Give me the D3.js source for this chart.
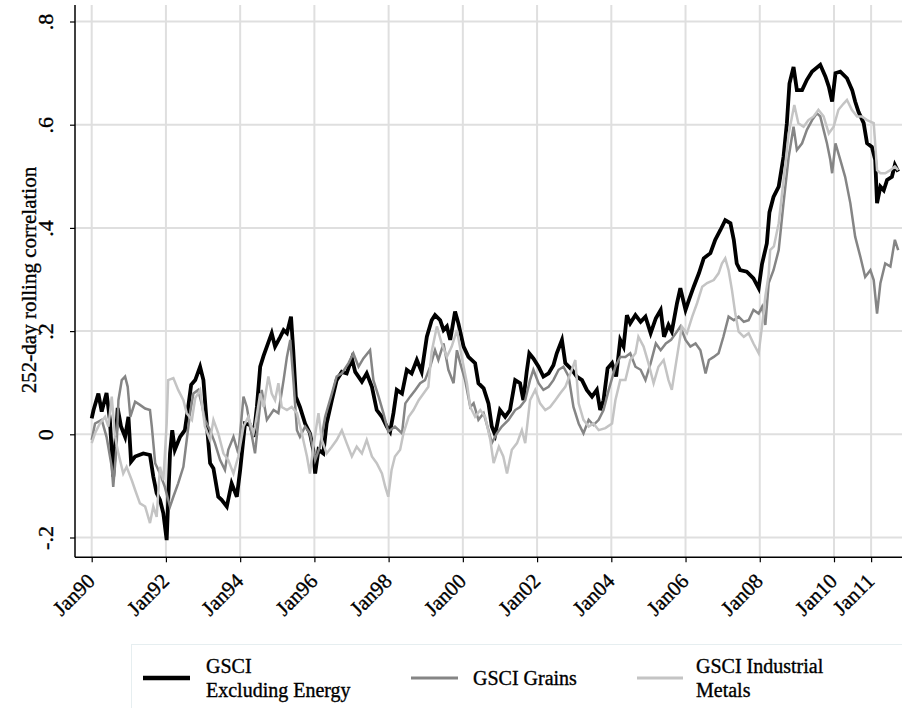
<!DOCTYPE html>
<html><head><meta charset="utf-8">
<script src="https://cdn.jsdelivr.net/npm/d3@7"></script>
<style>
html,body{margin:0;padding:0;background:#fff;}
svg{display:block;}
text{font-family:"Liberation Serif","Times New Roman",serif;fill:#000;stroke:#000;stroke-width:0.35px;}
</style></head>
<body>
<script>
// ---------- DATA ----------
const xTickValues = [1990,1992,1994,1996,1998,2000,2002,2004,2006,2008,2010,2011];
const xTickLabels = ["Jan90","Jan92","Jan94","Jan96","Jan98","Jan00","Jan02","Jan04","Jan06","Jan08","Jan10","Jan11"];
const yTickValues = [-0.2,0,0.2,0.4,0.6,0.8];
const yTickLabels = ["-.2","0",".2",".4",".6",".8"];
const yTitle = "252-day rolling correlation";
const seriesNames = [["GSCI","Excluding Energy"],["GSCI Grains"],["GSCI Industrial","Metals"]];

const exEnergyDates = [1990.00,1990.05,1990.18,1990.27,1990.40,1990.49,1990.58,1990.70,1990.79,1990.90,1990.99,1991.06,1991.17,1991.39,1991.57,1991.66,1991.75,1991.84,1991.93,1992.02,1992.11,1992.17,1992.24,1992.38,1992.51,1992.60,1992.68,1992.79,1992.92,1993.01,1993.10,1993.19,1993.28,1993.41,1993.50,1993.64,1993.77,1993.91,1994.00,1994.13,1994.27,1994.36,1994.45,1994.54,1994.63,1994.85,1994.94,1995.08,1995.17,1995.26,1995.37,1995.43,1995.50,1995.61,1995.75,1995.88,1995.97,1996.02,1996.11,1996.24,1996.33,1996.47,1996.60,1996.74,1996.87,1997.01,1997.10,1997.28,1997.41,1997.55,1997.68,1997.82,1997.95,1998.04,1998.13,1998.22,1998.36,1998.49,1998.62,1998.76,1998.89,1999.03,1999.16,1999.25,1999.39,1999.48,1999.57,1999.66,1999.79,1999.88,2000.02,2000.15,2000.33,2000.42,2000.56,2000.69,2000.78,2000.87,2001.00,2001.14,2001.27,2001.41,2001.54,2001.63,2001.72,2001.79,2001.90,2002.04,2002.17,2002.31,2002.44,2002.53,2002.67,2002.76,2002.94,2003.07,2003.21,2003.34,2003.48,2003.61,2003.70,2003.79,2003.90,2004.02,2004.13,2004.24,2004.33,2004.42,2004.51,2004.65,2004.79,2004.92,2005.06,2005.20,2005.33,2005.42,2005.54,2005.63,2005.77,2005.86,2006.00,2006.09,2006.22,2006.36,2006.49,2006.67,2006.80,2006.94,2007.07,2007.21,2007.30,2007.38,2007.47,2007.65,2007.83,2007.97,2008.06,2008.19,2008.26,2008.37,2008.51,2008.64,2008.73,2008.80,2008.91,2009.00,2009.14,2009.27,2009.41,2009.63,2009.77,2009.86,2009.95,2010.04,2010.17,2010.35,2010.49,2010.57,2010.66,2010.80,2010.89,2011.02,2011.11,2011.16,2011.25,2011.34,2011.43,2011.56,2011.64,2011.73];
const exEnergyValues = [0.031,0.047,0.079,0.044,0.080,0.028,-0.082,0.051,0.015,-0.005,0.034,-0.053,-0.043,-0.037,-0.040,-0.082,-0.114,-0.127,-0.153,-0.205,-0.037,0.008,-0.030,-0.005,0.008,0.053,0.096,0.105,0.131,0.105,0.021,-0.056,-0.066,-0.121,-0.127,-0.140,-0.095,-0.121,-0.069,0.021,0.018,-0.005,0.053,0.131,0.152,0.196,0.170,0.189,0.202,0.196,0.228,0.163,0.073,0.053,0.021,0.002,-0.030,-0.076,-0.030,-0.037,0.021,0.066,0.105,0.121,0.118,0.147,0.121,0.102,0.118,0.092,0.047,0.034,0.015,0.005,0.041,0.086,0.079,0.125,0.118,0.144,0.121,0.189,0.221,0.231,0.221,0.202,0.209,0.183,0.238,0.215,0.170,0.150,0.138,0.099,0.089,0.060,0.015,-0.001,0.047,0.034,0.047,0.105,0.099,0.066,0.121,0.157,0.147,0.131,0.112,0.118,0.134,0.157,0.183,0.138,0.125,0.112,0.105,0.086,0.073,0.086,0.047,0.066,0.128,0.138,0.112,0.183,0.170,0.231,0.215,0.231,0.218,0.228,0.196,0.225,0.241,0.189,0.212,0.199,0.254,0.283,0.241,0.260,0.286,0.312,0.341,0.351,0.377,0.396,0.415,0.409,0.377,0.331,0.318,0.315,0.302,0.283,0.330,0.370,0.430,0.460,0.480,0.538,0.603,0.680,0.712,0.667,0.667,0.687,0.703,0.716,0.693,0.674,0.645,0.700,0.703,0.690,0.667,0.645,0.625,0.603,0.564,0.557,0.532,0.448,0.480,0.473,0.493,0.499,0.522,0.509];

const grainsDates = [1990.00,1990.09,1990.27,1990.40,1990.54,1990.58,1990.67,1990.72,1990.81,1990.90,1990.97,1991.04,1991.17,1991.30,1991.44,1991.57,1991.62,1991.71,1991.84,1991.97,1992.11,1992.20,1992.33,1992.47,1992.56,1992.65,1992.74,1992.87,1992.96,1993.05,1993.19,1993.32,1993.46,1993.59,1993.68,1993.82,1993.95,1994.09,1994.18,1994.27,1994.40,1994.58,1994.72,1994.90,1995.03,1995.17,1995.26,1995.35,1995.44,1995.53,1995.61,1995.75,1995.88,1996.02,1996.15,1996.29,1996.47,1996.60,1996.74,1996.92,1997.05,1997.19,1997.32,1997.50,1997.59,1997.73,1997.86,1997.99,1998.17,1998.36,1998.45,1998.58,1998.72,1998.85,1998.98,1999.12,1999.25,1999.34,1999.48,1999.61,1999.75,1999.84,1999.93,2000.06,2000.20,2000.29,2000.42,2000.56,2000.69,2000.78,2000.92,2001.05,2001.23,2001.41,2001.54,2001.68,2001.81,2001.90,2002.04,2002.17,2002.31,2002.44,2002.58,2002.71,2002.85,2002.98,2003.12,2003.25,2003.39,2003.52,2003.66,2003.79,2003.93,2004.11,2004.24,2004.38,2004.51,2004.65,2004.79,2004.92,2005.06,2005.20,2005.33,2005.47,2005.61,2005.74,2005.86,2006.00,2006.13,2006.27,2006.40,2006.54,2006.63,2006.76,2006.89,2007.02,2007.16,2007.30,2007.43,2007.57,2007.70,2007.83,2007.97,2008.06,2008.15,2008.24,2008.37,2008.51,2008.64,2008.78,2008.91,2009.00,2009.14,2009.27,2009.41,2009.54,2009.63,2009.72,2009.81,2009.90,2009.95,2010.04,2010.17,2010.30,2010.44,2010.57,2010.71,2010.84,2010.98,2011.07,2011.16,2011.25,2011.38,2011.52,2011.64,2011.73];
const grainsValues = [-0.011,0.021,0.028,-0.005,-0.063,-0.102,-0.024,0.066,0.105,0.112,0.092,0.034,0.063,0.057,0.050,0.047,0.015,-0.056,-0.076,-0.102,-0.140,-0.121,-0.095,-0.063,-0.011,0.041,0.079,0.086,0.060,0.028,0.008,-0.017,-0.050,-0.069,-0.030,-0.005,-0.037,0.073,0.053,0.015,-0.037,0.086,0.028,0.047,0.041,0.105,0.150,0.183,0.099,0.008,-0.005,0.015,0.002,-0.050,-0.024,0.034,0.079,0.112,0.118,0.138,0.157,0.131,0.147,0.163,0.105,0.073,0.041,0.005,0.015,0.002,0.060,0.073,0.086,0.099,0.105,0.131,0.163,0.144,0.176,0.125,0.099,0.163,0.138,0.105,0.053,0.060,0.028,0.041,0.008,-0.017,0.002,0.015,0.028,0.047,0.053,0.066,0.105,0.125,0.099,0.086,0.092,0.105,0.125,0.131,0.112,0.053,0.021,0.002,0.028,0.018,0.028,0.047,0.086,0.131,0.150,0.150,0.157,0.131,0.125,0.105,0.138,0.176,0.163,0.176,0.183,0.196,0.209,0.183,0.170,0.176,0.163,0.118,0.144,0.150,0.157,0.189,0.228,0.221,0.228,0.218,0.221,0.241,0.234,0.247,0.212,0.293,0.318,0.357,0.448,0.538,0.596,0.551,0.564,0.590,0.609,0.622,0.616,0.590,0.564,0.532,0.506,0.564,0.532,0.499,0.448,0.383,0.344,0.305,0.318,0.299,0.234,0.293,0.331,0.325,0.377,0.357];

const metalsDates = [1990.00,1990.09,1990.22,1990.36,1990.45,1990.54,1990.63,1990.72,1990.85,1990.94,1991.08,1991.17,1991.30,1991.44,1991.57,1991.66,1991.75,1991.84,1991.93,1992.02,1992.06,1992.20,1992.33,1992.47,1992.56,1992.70,1992.79,1992.92,1993.05,1993.19,1993.28,1993.41,1993.55,1993.68,1993.82,1993.95,1994.09,1994.22,1994.36,1994.40,1994.54,1994.63,1994.76,1994.85,1994.94,1995.03,1995.12,1995.26,1995.39,1995.53,1995.66,1995.80,1995.88,1995.97,1996.11,1996.20,1996.33,1996.47,1996.60,1996.74,1996.87,1997.01,1997.14,1997.28,1997.41,1997.55,1997.68,1997.82,1997.91,1997.99,1998.08,1998.17,1998.31,1998.40,1998.54,1998.67,1998.81,1998.94,1999.07,1999.16,1999.30,1999.43,1999.57,1999.70,1999.84,1999.97,2000.11,2000.20,2000.33,2000.47,2000.60,2000.74,2000.83,2000.97,2001.09,2001.19,2001.32,2001.46,2001.59,2001.68,2001.81,2001.95,2002.08,2002.22,2002.35,2002.49,2002.62,2002.76,2002.90,2003.03,2003.12,2003.25,2003.39,2003.52,2003.66,2003.84,2004.02,2004.11,2004.24,2004.38,2004.51,2004.65,2004.73,2004.87,2005.00,2005.14,2005.27,2005.41,2005.54,2005.63,2005.77,2005.90,2006.04,2006.18,2006.31,2006.45,2006.58,2006.76,2006.89,2006.98,2007.07,2007.16,2007.25,2007.34,2007.43,2007.57,2007.70,2007.83,2007.97,2008.06,2008.15,2008.24,2008.28,2008.38,2008.51,2008.65,2008.78,2008.93,2009.04,2009.18,2009.31,2009.45,2009.58,2009.72,2009.86,2009.99,2010.12,2010.26,2010.35,2010.48,2010.62,2010.75,2010.89,2011.07,2011.16,2011.25,2011.38,2011.52,2011.64,2011.73];
const metalsValues = [-0.017,0.002,0.021,0.034,0.015,0.073,-0.005,-0.037,-0.076,-0.063,-0.089,-0.108,-0.134,-0.140,-0.172,-0.140,-0.160,-0.063,-0.089,0.021,0.105,0.109,0.086,0.066,0.041,0.028,0.070,0.086,0.015,-0.011,0.028,0.002,-0.037,-0.050,-0.076,-0.043,0.015,0.034,0.002,0.015,0.079,0.053,0.112,0.079,0.066,0.099,0.053,0.047,0.053,0.041,0.002,-0.043,-0.076,-0.024,0.041,-0.011,-0.037,-0.024,-0.011,0.008,-0.017,-0.043,-0.024,-0.037,-0.011,-0.043,-0.056,-0.076,-0.102,-0.121,-0.069,-0.043,-0.030,0.002,0.034,0.047,0.066,0.079,0.092,0.160,0.209,0.176,0.150,0.170,0.202,0.150,0.099,0.053,0.034,0.047,0.034,-0.011,-0.056,-0.024,-0.043,-0.076,-0.030,-0.017,0.008,-0.017,0.066,0.086,0.060,0.047,0.053,0.066,0.079,0.092,0.118,0.144,0.060,0.028,0.015,0.021,0.008,0.012,0.021,0.066,0.105,0.105,0.144,0.157,0.189,0.170,0.138,0.099,0.131,0.144,0.105,0.086,0.150,0.209,0.196,0.228,0.254,0.286,0.293,0.299,0.312,0.331,0.341,0.318,0.280,0.234,0.199,0.189,0.196,0.176,0.157,0.209,0.267,0.310,0.357,0.364,0.409,0.499,0.583,0.638,0.603,0.596,0.609,0.616,0.629,0.616,0.583,0.596,0.629,0.641,0.648,0.629,0.616,0.616,0.609,0.603,0.512,0.506,0.506,0.512,0.519,0.512];

const seriesColors = ["#000000","#858585","#c4c4c4"];

// ---------- DRAW ----------
const W = 902, H = 708;
const svg = d3.select("body").append("svg").attr("width", W).attr("height", H);

const plotLeft = 75, plotRight = 902, plotTop = 5, plotBottom = 557.3;
const x = d3.scaleLinear().domain([1990, 2010]).range([91.7, 834]);
const y = d3.scaleLinear().domain([0, 0.8]).range([434.3, 21.5]);

// gridlines
const grid = svg.append("g");
grid.selectAll("line.h").data(yTickValues).enter().append("line")
  .attr("x1", plotLeft).attr("x2", plotRight)
  .attr("y1", d => y(d)).attr("y2", d => y(d))
  .attr("stroke", "#dfdfdf").attr("stroke-width", 2);
grid.selectAll("line.v").data(xTickValues).enter().append("line")
  .attr("y1", plotTop).attr("y2", plotBottom)
  .attr("x1", d => x(d)).attr("x2", d => x(d))
  .attr("stroke", "#dfdfdf").attr("stroke-width", 2);

// series
const series = [
  {dates: exEnergyDates, values: exEnergyValues, width: 3.8},
  {dates: grainsDates, values: grainsValues, width: 2.5},
  {dates: metalsDates, values: metalsValues, width: 2.5}
];
const line = d3.line().x(d => x(d[0])).y(d => y(d[1])).curve(d3.curveLinear);
series.forEach((s, i) => {
  const pts = s.dates.map((d, k) => [d, s.values[k]]);
  svg.append("path").datum(pts)
    .attr("d", line)
    .attr("fill", "none")
    .attr("stroke", seriesColors[i])
    .attr("stroke-width", s.width)
    .attr("stroke-linejoin", "miter");
});

// axes
const yAxis = d3.axisLeft(y).tickValues(yTickValues)
  .tickFormat((d, i) => yTickLabels[i]).tickSize(5).tickPadding(0);
const gy = svg.append("g").attr("transform", `translate(${plotLeft},0)`).call(yAxis);
gy.select(".domain").remove();
gy.selectAll(".tick line").attr("stroke", "#000").attr("stroke-width", 1.2);
gy.selectAll(".tick text")
  .attr("x", 0).attr("y", 0).attr("dy", 0)
  .attr("transform", "translate(-22,0) rotate(-90)")
  .attr("text-anchor", "middle")
  .style("font-size", "22px")
  .style("font-family", "'Liberation Serif', serif");
svg.append("line").attr("x1", plotLeft).attr("x2", plotLeft)
  .attr("y1", plotTop).attr("y2", plotBottom)
  .attr("stroke", "#000").attr("stroke-width", 1.5);

const xAxis = d3.axisBottom(x).tickValues(xTickValues)
  .tickFormat((d, i) => xTickLabels[i]).tickSize(5);
const gx = svg.append("g").attr("transform", `translate(0,${plotBottom})`).call(xAxis);
gx.select(".domain").remove();
gx.selectAll(".tick line").attr("stroke", "#000").attr("stroke-width", 1.2);
gx.selectAll(".tick text")
  .attr("x", 0).attr("y", 0).attr("dy", 0)
  .attr("transform", "translate(4,25) rotate(-45)")
  .attr("text-anchor", "end")
  .style("font-size", "21px")
  .style("font-family", "'Liberation Serif', serif");
svg.append("line").attr("x1", plotLeft).attr("x2", plotRight)
  .attr("y1", plotBottom).attr("y2", plotBottom)
  .attr("stroke", "#000").attr("stroke-width", 1.5);

// y title
svg.append("text")
  .attr("transform", `translate(36,${(163 + 397) / 2}) rotate(-90)`)
  .attr("text-anchor", "middle")
  .style("font-size", "21px")
  .text(yTitle);

// legend
const lg = svg.append("g");
lg.append("rect").attr("x", 131.5).attr("y", 644.5).attr("width", 790).attr("height", 80)
  .attr("fill", "#fff").attr("stroke", "#e6eef0").attr("stroke-width", 1);
const legendItems = [
  {x1: 143, x2: 190, tx: 206, w: 4.5},
  {x1: 411, x2: 458, tx: 473, w: 3},
  {x1: 637, x2: 683, tx: 696, w: 3}
];
legendItems.forEach((it, i) => {
  lg.append("line").attr("x1", it.x1).attr("x2", it.x2).attr("y1", 678).attr("y2", 678)
    .attr("stroke", seriesColors[i]).attr("stroke-width", it.w);
  const lines = seriesNames[i];
  if (lines.length === 1) {
    lg.append("text").attr("x", it.tx).attr("y", 685).style("font-size", "20px").text(lines[0]);
  } else {
    lg.append("text").attr("x", it.tx).attr("y", 673).style("font-size", "20px").text(lines[0]);
    lg.append("text").attr("x", it.tx).attr("y", 697).style("font-size", "20px").text(lines[1]);
  }
});
</script>
</body></html>
